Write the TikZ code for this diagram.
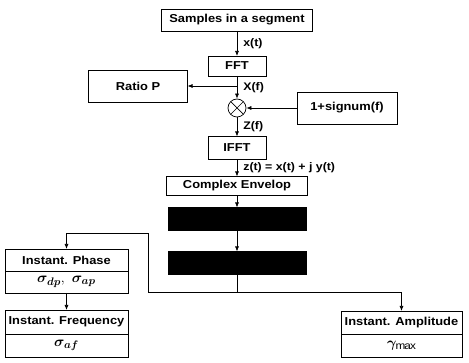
\documentclass[tikz,border=0pt]{standalone}
\usepackage{amsmath, amssymb}
\usepackage{bm}
\usepackage{fontspec}
\setmainfont{Liberation Sans}[FakeStretch=1.12]
\usepackage{tikz}
\usetikzlibrary{calc,positioning}
\usetikzlibrary{arrows.meta}
\tikzset{
  % block styles
  % gebruik: \node[blok,minimum width=..,minimum height=..] (naam) at (x,y) {tekst};
  blok/.style={draw,line width=.8pt,inner sep=1pt,outer sep=0pt,font=\fontsize{11.5}{13}\selectfont\bfseries},
  waarde/.style={blok,font=\fontsize{15}{17}\selectfont},
  zwart/.style={draw,line width=.8pt,fill=black,outer sep=0pt},
  % multiplier (circle with a cross)
  mult/.style={circle,draw,line width=.7pt,inner sep=0pt,minimum size=18pt,
    path picture={\draw[line width=.7pt] (path picture bounding box.north west) -- (path picture bounding box.south east)
      (path picture bounding box.north east) -- (path picture bounding box.south west);}},
  % signal labels next to the lines
  sig/.style={font=\fontsize{11}{13}\selectfont\bfseries,inner sep=2pt,xshift=4pt},
  lijn/.style={line width=.7pt,-{Latex[length=5pt,width=4pt]}},
}
\begin{document}
\begin{tikzpicture}[x=1pt,y=-1pt]
  \useasboundingbox (0,0) rectangle (469,363);
  \node[blok,minimum width=151,minimum height=22] (samples) at (237,20) {Samples in a segment};
  \node[blok,minimum width=58,minimum height=20] (fft) at (237,66) {FFT};
  \node[blok,minimum width=99,minimum height=32] (ratio) at (138,86) {Ratio P};
  \node[mult] (mul) at (237,108) {};
  \node[blok,minimum width=100,minimum height=32] (signum) at (347,108) {1+signum(f)};
  \node[blok,minimum width=58,minimum height=23] (ifft) at (237,148) {IFFT};
  \node[blok,minimum width=141,minimum height=19] (complex) at (237,186) {Complex Envelop};
  \node[zwart,minimum width=138,minimum height=23] (dark1) at (237,219) {};
  \node[zwart,minimum width=138,minimum height=23] (dark2) at (237,263) {};
  % output blocks
  \node[blok,minimum width=123,minimum height=22] (phase) at (66.5,260) {Instant. Phase};
  \node[waarde,minimum width=123,minimum height=22] (phasev) at (66.5,282) {$\bm{\sigma_{dp}},\ \bm{\sigma_{ap}}$};
  \node[blok,minimum width=123,minimum height=24] (freq) at (66.5,322) {Instant. Frequency};
  \node[waarde,minimum width=123,minimum height=23] (freqv) at (66.5,345.5) {$\bm{\sigma_{af}}$};
  \node[blok,minimum width=121,minimum height=23] (amp) at (401.5,322.5) {Instant. Amplitude};
  \node[waarde,minimum width=121,minimum height=23] (ampv) at (401.5,345.5) {$\bm{\gamma}_{\max}$};
  \coordinate (split) at (237,292);
  \coordinate (bend) at (148,233);
  \draw[lijn] (samples) -- node[sig,right]{x(t)} (fft);
  \draw[lijn] (fft) -- node[sig,right]{X(f)} (mul);
  \draw[lijn] (fft.south |- ratio) -- (ratio);
  \draw[lijn] (signum) -- (mul);
  \draw[lijn] (mul) -- node[sig,right]{Z(f)} (ifft);
  \draw[lijn] (ifft) -- node[sig,right]{z(t) = x(t) + j y(t)} (complex);
  \draw[lijn] (complex) -- (dark1);
  \draw[lijn] (dark1) -- (dark2);
  \draw[line width=.7pt] (dark2) -- (split);
  \draw[lijn] (split) -| (bend) -| (phase.north);
  \draw[lijn] (split) -| (amp.north);
  \draw[lijn] (phasev) -- (freq);
\end{tikzpicture}
\end{document}
